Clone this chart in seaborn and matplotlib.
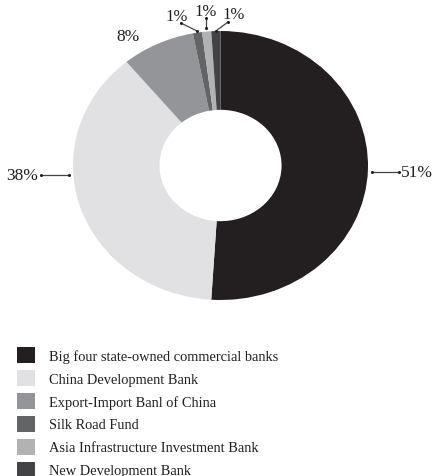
import matplotlib
matplotlib.use("Agg")
import matplotlib.pyplot as plt
import seaborn as sns
from matplotlib.patches import Patch

categories = [
    "Big four state-owned commercial banks",
    "China Development Bank",
    "Export-Import Banl of China",
    "Silk Road Fund",
    "Asia Infrastructure Investment Bank",
    "New Development Bank",
]
shares = [51, 38, 8, 1, 1, 1]
labels = ["51%", "38%", "8%", "1%", "1%", "1%"]
colors = ["#231f20", "#e1e1e3", "#939598", "#636466", "#b0b2b4", "#434345"]

sns.set_theme(style="white")
plt.rcParams["font.family"] = ["Liberation Serif", "DejaVu Serif"]
TXT = "#231f20"

fig = plt.figure(figsize=(4.32, 4.77), dpi=100)
ax = fig.add_axes([73 / 432, (477 - 301) / 477, 295 / 432, 269 / 477])
ax.pie(shares, colors=colors, startangle=90, counterclock=False, radius=1,
       wedgeprops=dict(width=0.586, linewidth=0))
ax.set_aspect("auto")
ax.set_xlim(-1, 1)
ax.set_ylim(-1, 1)
ax.axis("off")

lc = "#444444"
def leader(x0, y0, x1, y1):
    ax.plot([x0, x1], [y0, y1], color=lc, lw=0.9, clip_on=False,
            marker="o", markersize=2.2, markeredgewidth=0, markerfacecolor=TXT)

# 51%
leader(1.027, -0.048, 1.210, -0.048)
ax.text(1.224, -0.048, labels[0], ha="left", va="center", fontsize=12.5, color=TXT)
# 38%
leader(-1.217, -0.074, -1.027, -0.074)
ax.text(-1.237, -0.074, labels[1], ha="right", va="center", fontsize=12.5, color=TXT)
# 8%
ax.text(-0.627, 0.963, labels[2], ha="center", va="center", fontsize=12.5, color=TXT)
# 1% labels
leader(-0.268, 1.059, -0.159, 1.0)
ax.text(-0.295, 1.115, labels[3], ha="center", va="center", fontsize=12, color=TXT)
leader(-0.098, 1.097, -0.098, 1.022)
ax.text(-0.098, 1.148, labels[4], ha="center", va="center", fontsize=12, color=TXT)
leader(0.051, 1.067, -0.031, 1.0)
ax.text(0.088, 1.13, labels[5], ha="center", va="center", fontsize=12, color=TXT)

handles = [Patch(facecolor=c, edgecolor="none", label=l) for c, l in zip(colors, categories)]
fig.legend(handles=handles, loc="upper left", bbox_to_anchor=(14 / 432, 1 - 345 / 477),
           frameon=False, fontsize=10.4, handlelength=1.25, handleheight=1.3,
           handletextpad=1.0, labelspacing=0.5, borderaxespad=0, borderpad=0.2,
           labelcolor=TXT)

fig.savefig("out.png", dpi=100, facecolor="white")
